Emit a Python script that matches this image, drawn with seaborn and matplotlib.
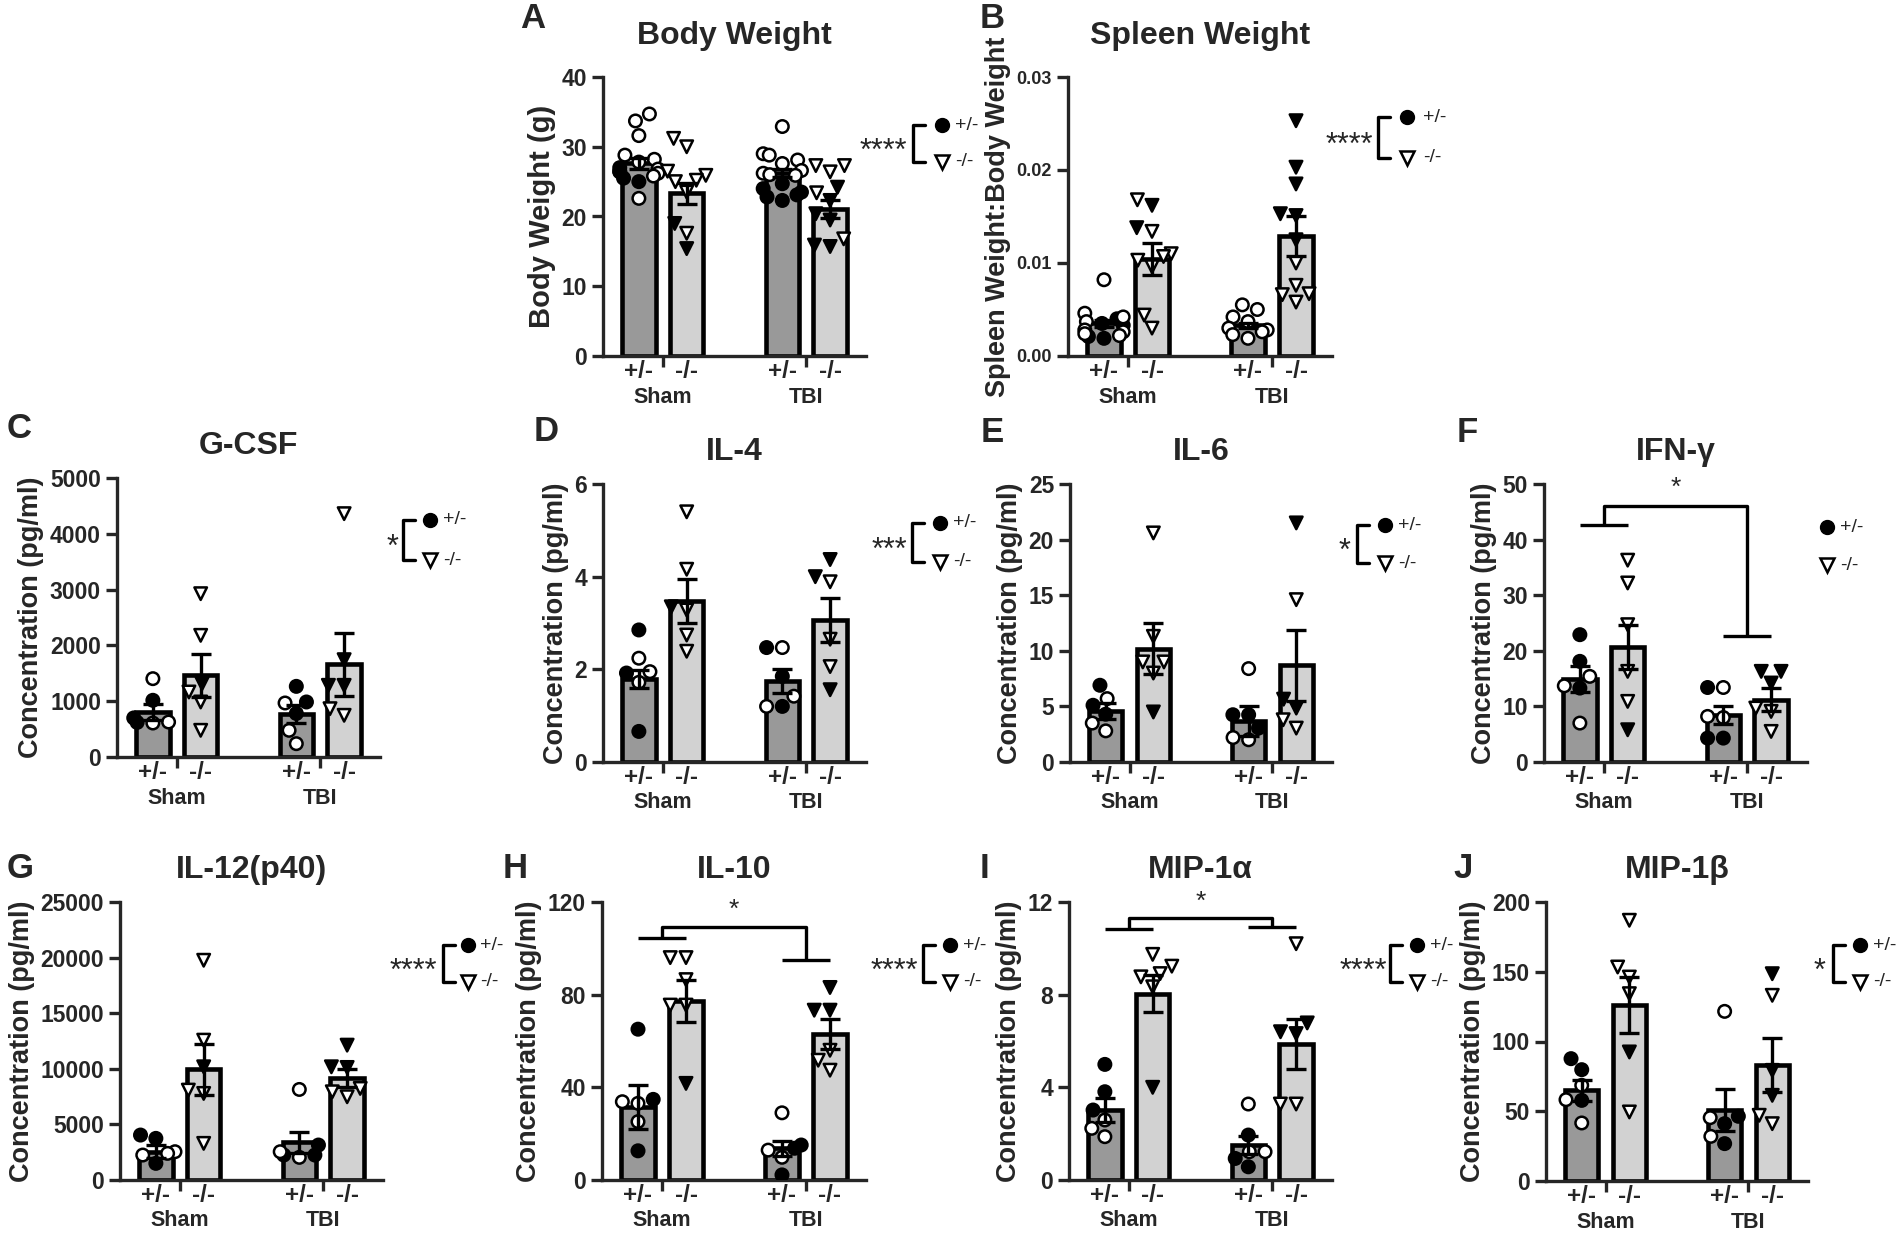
import warnings
import matplotlib
matplotlib.use("Agg")
import matplotlib.pyplot as plt
from matplotlib.lines import Line2D
from matplotlib.ticker import FormatStrFormatter
import pandas as pd
import seaborn as sns

warnings.filterwarnings("ignore")

# x slots: an empty slot keeps Sham and TBI apart
order = ["Sham +/-", "Sham -/-", "gap", "TBI +/-", "TBI -/-"]
bar_groups = ["Sham +/-", "Sham -/-", "TBI +/-", "TBI -/-"]
tick_labels = ["+/-", "-/-", "+/-", "-/-"]
bar_colors = {"Sham +/-": "#999999", "Sham -/-": "#d2d2d2",
              "TBI +/-": "#999999", "TBI -/-": "#d2d2d2"}

# A  Body weight
bw_mean = [27.6, 23.3, 26.2, 21.1]
bw_sem = [0.8, 1.5, 0.6, 1.3]
bw_filled = [[27.0, 26.5, 26.4, 25.5, 25.0], [19.0, 15.4],
             [24.7, 24.0, 23.5, 23.1, 22.8, 22.3], [24.2, 22.3, 20.4, 19.5, 15.9, 15.7]]
bw_open = [[34.7, 33.7, 31.6, 28.8, 28.2, 27.8, 26.8, 26.2, 25.8, 22.6],
           [31.2, 30.0, 26.5, 25.9, 25.2, 25.0, 23.5, 17.6],
           [32.9, 29.0, 28.8, 28.1, 27.6, 26.6, 26.2, 26.0, 25.9],
           [27.3, 27.3, 26.4, 23.4, 16.8]]

# B  Spleen weight : body weight
spleen_mean = [0.0035, 0.0104, 0.0033, 0.0129]
spleen_sem = [0.0004, 0.0017, 0.0003, 0.0022]
spleen_filled = [[0.0040, 0.0035, 0.0033, 0.0021, 0.0019], [0.0162, 0.0138], [],
                 [0.0253, 0.0203, 0.0185, 0.0153, 0.0151, 0.0125]]
spleen_open = [[0.0082, 0.0046, 0.0042, 0.0037, 0.0028, 0.0026, 0.0024, 0.0022],
               [0.0168, 0.0134, 0.0110, 0.0107, 0.0103, 0.0096, 0.0044, 0.0030],
               [0.0055, 0.0050, 0.0042, 0.0037, 0.0030, 0.0028, 0.0026, 0.0023, 0.0019],
               [0.0100, 0.0076, 0.0067, 0.0066, 0.0058]]

# C  G-CSF
gcsf_mean = [806, 1464, 765, 1661]
gcsf_sem = [150, 390, 160, 567]
gcsf_filled = [[1016, 700, 620], [1314], [1266, 986, 780], [1744, 1284, 1284]]
gcsf_open = [[1404, 627, 609], [2927, 2180, 1165, 986, 478], [968, 478, 239], [4361, 866, 747]]

# D  IL-4
il4_mean = [1.79, 3.48, 1.74, 3.07]
il4_sem = [0.19, 0.48, 0.26, 0.48]
il4_filled = [[2.85, 1.92, 0.66], [3.35], [2.47, 1.85, 1.20], [4.37, 4.00, 1.56]]
il4_open = [[2.24, 1.95, 1.72], [5.40, 4.16, 3.28, 2.74, 2.39], [2.47, 1.42, 1.20], [3.89, 2.65, 2.06]]

# E  IL-6
il6_mean = [4.6, 10.2, 3.65, 8.7]
il6_sem = [0.7, 2.3, 1.35, 3.2]
il6_filled = [[6.9, 5.1, 4.3], [4.5], [4.25, 4.25, 3.05], [21.5, 5.65, 4.85]]
il6_open = [[5.7, 3.5, 2.8], [20.6, 11.3, 9.0, 9.0, 8.0], [8.4, 2.2, 2.0], [14.6, 3.8, 3.05]]

# F  IFN-gamma
ifng_mean = [14.9, 20.7, 8.5, 11.2]
ifng_sem = [2.3, 4.0, 1.6, 2.1]
ifng_filled = [[22.9, 18.1, 13.3], [5.8], [13.4, 4.3, 4.3], [16.3, 16.3, 14.2]]
ifng_open = [[15.4, 13.7, 7.0], [36.3, 32.2, 24.7, 16.3, 10.9], [13.4, 8.2, 8.0], [9.7, 9.1, 5.5]]

# G  IL-12(p40)
il12_mean = [2545, 9940, 3383, 9132]
il12_sem = [600, 2330, 960, 810]
il12_filled = [[4042, 3743, 1497], [10180], [3144, 2245, 2245], [12126, 10120, 10180]]
il12_open = [[2545, 2395, 2245], [19760, 12575, 8084, 7784, 3293], [8144, 2545, 2036], [8234, 7934, 7485]]

# H  IL-10
il10_mean = [31.6, 77.3, 13.7, 62.9]
il10_sem = [9.4, 8.9, 3.3, 6.4]
il10_filled = [[65.1, 34.8, 12.6], [41.7], [15.1, 13.7, 2.2], [83.1, 73.3, 73.3]]
il10_open = [[33.8, 33.1, 25.2], [96.0, 96.0, 86.5, 75.5, 75.5], [29.0, 12.9, 9.8], [56.0, 51.7, 47.4]]

# I  MIP-1alpha
mip1a_mean = [3.02, 8.05, 1.51, 5.89]
mip1a_sem = [0.50, 0.80, 0.40, 1.08]
mip1a_filled = [[4.99, 3.81, 3.02], [4.00], [1.94, 0.93, 0.57], [6.78, 6.40, 6.32]]
mip1a_open = [[2.59, 2.23, 1.87], [9.74, 9.23, 8.91, 8.77, 8.34], [3.28, 1.22, 1.22], [10.2, 3.28, 3.28]]

# J  MIP-1beta
mip1b_mean = [65.0, 125.9, 51.1, 83.4]
mip1b_sem = [7.6, 20.0, 15.1, 19.3]
mip1b_filled = [[87.7, 79.8, 57.8], [92.5], [46.4, 41.1, 26.8], [148.6, 79.3, 61.4]]
mip1b_open = [[68.6, 58.3, 41.6], [186.9, 153.4, 146.2, 134.3, 49.5], [121.6, 45.4, 32.0], [133.1, 47.1, 41.1]]

conc = "Concentration (pg/ml)"
panels = [
    dict(letter="A", title="Body Weight", ylabel="Body Weight (g)", mean=bw_mean, sem=bw_sem,
         filled=bw_filled, open=bw_open, yticks=[0, 10, 20, 30, 40], fmt="%d", stars="****"),
    dict(letter="B", title="Spleen Weight", ylabel="Spleen Weight:Body Weight", mean=spleen_mean,
         sem=spleen_sem, filled=spleen_filled, open=spleen_open, yticks=[0, 0.01, 0.02, 0.03],
         fmt="%.2f", stars="****"),
    dict(letter="C", title="G-CSF", ylabel=conc, mean=gcsf_mean, sem=gcsf_sem, filled=gcsf_filled,
         open=gcsf_open, yticks=[0, 1000, 2000, 3000, 4000, 5000], fmt="%d", stars="*"),
    dict(letter="D", title="IL-4", ylabel=conc, mean=il4_mean, sem=il4_sem, filled=il4_filled,
         open=il4_open, yticks=[0, 2, 4, 6], fmt="%d", stars="***"),
    dict(letter="E", title="IL-6", ylabel=conc, mean=il6_mean, sem=il6_sem, filled=il6_filled,
         open=il6_open, yticks=[0, 5, 10, 15, 20, 25], fmt="%d", stars="*"),
    dict(letter="F", title="IFN-γ", ylabel=conc, mean=ifng_mean, sem=ifng_sem, filled=ifng_filled,
         open=ifng_open, yticks=[0, 10, 20, 30, 40, 50], fmt="%d", stars=None),
    dict(letter="G", title="IL-12(p40)", ylabel=conc, mean=il12_mean, sem=il12_sem, filled=il12_filled,
         open=il12_open, yticks=[0, 5000, 10000, 15000, 20000, 25000], fmt="%d", stars="****"),
    dict(letter="H", title="IL-10", ylabel=conc, mean=il10_mean, sem=il10_sem, filled=il10_filled,
         open=il10_open, yticks=[0, 40, 80, 120], fmt="%d", stars="****"),
    dict(letter="I", title="MIP-1α", ylabel=conc, mean=mip1a_mean, sem=mip1a_sem, filled=mip1a_filled,
         open=mip1a_open, yticks=[0, 4, 8, 12], fmt="%d", stars="****"),
    dict(letter="J", title="MIP-1β", ylabel=conc, mean=mip1b_mean, sem=mip1b_sem, filled=mip1b_filled,
         open=mip1b_open, yticks=[0, 50, 100, 150, 200], fmt="%d", stars="*"),
]

# layout in pixels: axes box (left, top, right, bottom), panel letter centre,
# key (bracket x, top y, bottom y, marker x, text x, stars right edge)
W, H = 1902, 1235
layout = {
    "A": dict(box=(603, 77, 866, 356), lab=(533, 18), key=(913, 125, 162, 942, 955, 907), pad=24, ylfs=21),
    "B": dict(box=(1068, 77, 1332, 356), lab=(992, 18), key=(1378, 117, 158, 1407, 1423, 1373), pad=24, ylfs=19.5),
    "C": dict(box=(117, 478, 380, 757), lab=(19, 428), key=(403, 520, 560, 430, 443, 398), pad=17, ylfs=19.5),
    "D": dict(box=(603, 484, 866, 762), lab=(546, 432), key=(912, 523, 562, 940, 953, 907), pad=17, ylfs=19.5),
    "E": dict(box=(1070, 484, 1332, 762), lab=(992, 433), key=(1357, 525, 563, 1385, 1398, 1350), pad=17, ylfs=19.5),
    "F": dict(box=(1544, 484, 1807, 762), lab=(1467, 433), key=(None, 527, 565, 1827, 1840, None), pad=17, ylfs=19.5),
    "G": dict(box=(120, 902, 383, 1180), lab=(20, 868), key=(443, 945, 982, 468, 480, 437), pad=17, ylfs=19.5),
    "H": dict(box=(602, 902, 866, 1180), lab=(515, 868), key=(923, 945, 982, 950, 963, 918), pad=17, ylfs=19.5),
    "I": dict(box=(1069, 902, 1332, 1180), lab=(985, 868), key=(1390, 945, 982, 1417, 1430, 1387), pad=17, ylfs=19.5),
    "J": dict(box=(1546, 902, 1808, 1181), lab=(1463, 868), key=(1833, 945, 982, 1860, 1873, 1825), pad=17, ylfs=19.5),
}

# interaction brackets (left low, top, right low, star) in data units
sig_bars = {"F": (42.6, 46.0, 22.7, 47.2), "H": (104.4, 109.2, 95.0, 111.5), "I": (10.83, 11.3, 10.9, 11.5)}

sns.set_style("ticks")
plt.rcParams["font.family"] = ["Liberation Sans", "DejaVu Sans"]
LW = 2.4


def fx(x):
    return x / W


def fy(y):
    return 1 - y / H


def draw_panel(ax, p):
    xpos = [order.index(g) for g in bar_groups]
    df_bar = pd.DataFrame({"group": bar_groups, "value": p["mean"]})
    sns.barplot(data=df_bar, x="group", y="value", hue="group", order=order, hue_order=bar_groups,
                palette=bar_colors, width=0.7, edgecolor="black", linewidth=3.3, errorbar=None,
                legend=False, ax=ax, zorder=1)

    rows = []
    for g, f, o in zip(bar_groups, p["filled"], p["open"]):
        rows += [(g, v, "filled") for v in f] + [(g, v, "open") for v in o]
    df = pd.DataFrame(rows, columns=["group", "value", "fill"])
    for mk, gs in (("o", ["Sham +/-", "TBI +/-"]), ("v", ["Sham -/-", "TBI -/-"])):
        sub = df[df["group"].isin(gs)]
        sns.swarmplot(data=sub, x="group", y="value", hue="fill", order=order,
                      hue_order=["filled", "open"], palette={"filled": "black", "open": "white"},
                      marker=mk, size=9, edgecolor="black", linewidth=1.8, legend=False,
                      ax=ax, zorder=3)

    ax.errorbar(xpos, p["mean"], yerr=p["sem"], fmt="none", ecolor="black",
                elinewidth=LW, capsize=7, capthick=LW, zorder=4)

    ax.set_xlim(-0.75, 4.75)
    ax.set_ylim(0, p["yticks"][-1])
    ax.set_yticks(p["yticks"])
    ax.yaxis.set_major_formatter(FormatStrFormatter(p["fmt"]))
    ax.set_xticks(xpos, tick_labels)
    ax.set_xticks([0.5, 3.5], minor=True)
    ax.tick_params(axis="x", which="major", length=0, pad=3, labelsize=17.5)
    ax.tick_params(axis="x", which="minor", length=8, width=LW)
    ax.tick_params(axis="y", length=8, width=LW, labelsize=13 if p["letter"] == "B" else 16.5)
    for lab in ax.get_xticklabels() + ax.get_yticklabels():
        lab.set_fontweight("bold")
    sns.despine(ax=ax)
    for s in ("left", "bottom"):
        ax.spines[s].set_linewidth(LW)
    ax.set_xlabel("")
    lay = layout[p["letter"]]
    ax.set_ylabel(p["ylabel"], fontsize=lay["ylfs"], fontweight="bold", labelpad=4)
    ax.set_title(p["title"], fontsize=23, fontweight="bold", pad=lay["pad"])
    for x, name in ((0.5, "Sham"), (3.5, "TBI")):
        ax.text(x, -0.147, name, transform=ax.get_xaxis_transform(), ha="center", va="center",
                fontsize=15.5, fontweight="bold")

    if p["letter"] in sig_bars:
        lo, top, ro, star = sig_bars[p["letter"]]
        kw = dict(color="black", lw=LW, clip_on=False, solid_capstyle="butt")
        ax.plot([0, 1], [lo, lo], **kw)
        ax.plot([3, 4], [ro, ro], **kw)
        ax.plot([0.5, 0.5, 3.5, 3.5], [lo, top, top, ro], **kw)
        ax.text(2.0, star, "*", ha="center", va="bottom", fontsize=19, clip_on=False)


def draw_key(fig, p):
    bx, y0, y1, mx, tx, sx = layout[p["letter"]]["key"]
    tr = fig.transFigure
    if bx is not None:
        fig.add_artist(Line2D([fx(bx + 12), fx(bx), fx(bx), fx(bx + 12)],
                              [fy(y0), fy(y0), fy(y1), fy(y1)], transform=tr, color="black", lw=LW))
        fig.text(fx(sx), fy((y0 + y1) / 2 + 16), p["stars"], ha="right", va="baseline", fontsize=22)
    fig.add_artist(Line2D([fx(mx)], [fy(y0)], transform=tr, marker="o", ms=10, mfc="black",
                          mec="black", ls="none"))
    fig.add_artist(Line2D([fx(mx)], [fy(y1)], transform=tr, marker="v", ms=10, mfc="white",
                          mec="black", mew=1.8, ls="none"))
    fig.text(fx(tx), fy(y0), "+/-", ha="left", va="center", fontsize=14)
    fig.text(fx(tx), fy(y1), "-/-", ha="left", va="center", fontsize=14)


fig = plt.figure(figsize=(W / 100, H / 100), dpi=100)
for p in panels:
    l, t, r, b = layout[p["letter"]]["box"]
    ax = fig.add_axes([fx(l), fy(b), (r - l) / W, (b - t) / H])
    draw_panel(ax, p)
    draw_key(fig, p)
    lx, ly = layout[p["letter"]]["lab"]
    fig.text(fx(lx), fy(ly), p["letter"], ha="center", va="center", fontsize=25, fontweight="bold")

fig.savefig("out.png", dpi=100, facecolor="white")
